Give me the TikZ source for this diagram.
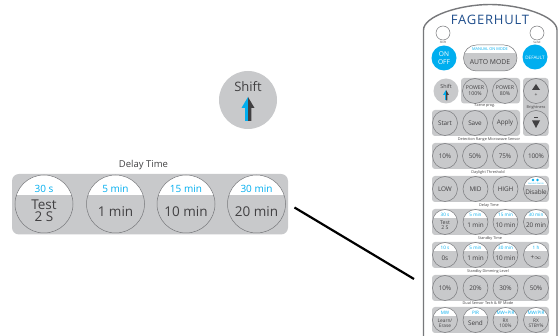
\documentclass[tikz,border=0pt]{standalone}
\usepackage{fontspec}
\setmainfont{Open Sans}
\definecolor{panelg}{HTML}{C8C9CB}
\definecolor{btnline}{HTML}{77787B}
\definecolor{cyanb}{HTML}{00AEEF}
\definecolor{txtg}{HTML}{414042}
\definecolor{brandb}{HTML}{1F4E8C}
\newcommand{\fs}[1]{\fontsize{#1}{#1}\selectfont}
\tikzset{
  panel/.style={fill=panelg,draw=none},
  btnc/.style={draw=btnline,line width=0.5pt},
  lbl/.style={text=txtg,inner sep=0pt,align=center,font=\fs{3.8}},
  big/.style={text=txtg,inner sep=0pt,align=center,font=\fs{6.4}\addfontfeatures{LetterSpace=-2}},
  top/.style={text=cyanb,inner sep=0pt,align=center,font=\fs{4.6}},
}
\newcommand{\plainb}[3]{\draw[btnc] (#1,#2) circle (12.5);
  \node[big] at (#1,#2) {#3};}
\newcommand{\twob}[4]{\begin{scope}\clip (#1,#2) circle (12.5);
  \fill[white] (#1-13,#2-13) rectangle (#1+13,#2-4);\end{scope}
  \draw[btnc] (#1,#2) circle (12.5);
  \node[top] at (#1,#2-7.6) {#3};
  \node[big] at (#1,#2+3) {#4};}
\newcommand{\bigb}[4]{\begin{scope}\clip (#1,204) circle (29);
  \fill[white] (#1-30,170) rectangle (#1+30,195);\end{scope}
  \draw[btnc] (#1,204) circle (29);
  \node[text=cyanb,inner sep=0pt,font=\fs{10}] at (#1,188.5) {#2};
  \node[text=txtg,inner sep=0pt,align=center,font=\fs{13.5}] at (#1,#3) {#4};}
\begin{document}
\begin{tikzpicture}[x=1pt,y=-1pt]
\useasboundingbox (0,0) rectangle (558,336);
\fill[white] (0,0) rectangle (558,336);
% remote body
\draw[draw=btnline,line width=1.4pt,fill=white] (423.5,337) -- (423.5,30) .. controls (423.5,16) and (460,4.5) .. (490,4.5) .. controls (520,4.5) and (557,16) .. (557,30) -- (557,337);
\node[text=brandb,inner sep=0pt,font=\fs{13}\addfontfeatures{LetterSpace=6}] (brand) at (490,20) {FAGERHULT};
\draw[btnc] (443,33) circle (7); \draw[btnc] (537,33) circle (7);
\node[lbl,font=\fs{3}] at (443,42) {Shift};
\node[lbl,font=\fs{3}] at (537,42) {Send};
% on/off + default
\fill[cyanb] (444,58) circle (12.5);
\node[text=white,inner sep=0pt,align=center,font=\fs{6.6}] at (444,58) {ON\\[1pt]OFF};
\fill[cyanb] (535,57) circle (12.5);
\node[text=white,inner sep=0pt,font=\fs{4.6}] at (535,57.5) {DEFAULT};
% auto mode
\fill[panelg,rounded corners=12.9pt] (463.5,45) rectangle (517,71);
\begin{scope}
\clip[rounded corners=12.9pt] (463.5,45) rectangle (517,71);
\fill[white] (460,44) rectangle (520,53.5);
\end{scope}
\draw[btnc,rounded corners=12.9pt] (463.5,45) rectangle (517,71);
\node[top,font=\fs{3.9}] at (490,49.5) {MANUAL ON MODE};
\node[big,font=\fs{6.8}] at (490,62.5) {AUTO MODE};
% shift small
\fill[panelg] (446,91) circle (12.5);
\node[text=txtg,inner sep=0pt,font=\fs{5.4}] at (446,86) {Shift};
\fill[cyanb] (444.6,92) -- (446,92) -- (446,100.5) -- (444.6,100.5) -- cycle;
\fill[cyanb] (443,95) -- (446,90) -- (446,95) -- cycle;
\fill[txtg] (446,90) -- (449,95) -- (447.4,95) -- (447.4,100.5) -- (446,100.5) -- cycle;
% panels
\fill[panel] (461,78) [rounded corners=3pt] rectangle (520,103.5);
\fill[panel] (523,78) [rounded corners=3pt] rectangle (548.5,136);
\fill[panel] (432,110) [rounded corners=3pt] rectangle (520,136);
\fill[panel] (432,143) [rounded corners=3pt] rectangle (549,169);
\fill[panel] (432,176) [rounded corners=3pt] rectangle (549,202);
\fill[panel] (432,209) [rounded corners=3pt] rectangle (549,235);
\fill[panel] (432,242) [rounded corners=3pt] rectangle (549,268);
\fill[panel] (432,275) [rounded corners=3pt] rectangle (549,301);
\fill[panel] (432,307) [rounded corners=3pt] rectangle (549,333);
% power
\plainb{475}{91}{}\plainb{505}{91}{}
\node[big,font=\fs{5.2}] at (475,91) {POWER\\[1pt]100\%};
\node[big,font=\fs{5.2}] at (505,91) {POWER\\[1pt]80\%};
% brightness
\draw[btnc] (536,91) circle (12.5);
\fill[txtg] (532,90) -- (536,84) -- (540,90) -- cycle;
\node[text=txtg,inner sep=0pt,font=\fs{5}] at (536,95) {+};
\draw[btnc] (536,123) circle (12.5);
\fill[txtg] (532,120.5) -- (540,120.5) -- (536,128) -- cycle;
\fill[txtg] (534,117.2) rectangle (538,117.8);
\node[lbl] at (536,107.5) {Brightness};
% scene
\node[lbl] at (485,106) {Scene prog.};
\plainb{445}{123}{Start}\plainb{475}{123}{Save}\plainb{505}{123}{Apply}
% detection
\node[lbl] at (489,140) {Detection Range Microwave Sensor};
\plainb{445}{156}{10\%}\plainb{475}{156}{50\%}\plainb{505}{156}{75\%}\plainb{536}{156}{100\%}
% daylight
\node[lbl] at (488,172.5) {Daylight Threshold};
\plainb{445}{189}{LOW}\plainb{475.5}{189}{MID}\plainb{505.5}{189}{HIGH}
\twob{536}{189}{}{Disable}
\fill[cyanb] (533,180) circle (1.3); \fill[cyanb] (537.5,180) circle (1.3);
\node[top,font=\fs{1.8}] at (536,183.5) {DAYLIGHT SENSOR};
% delay
\node[lbl] at (489,205.5) {Delay Time};
\twob{445}{222}{30 s}{}\twob{475.5}{222}{5 min}{1 min}\twob{505.5}{222}{15 min}{10 min}\twob{536}{222}{30 min}{20 min}
\node[big,font=\fs{5.2}] at (445,225) {Test\\[0pt]2 S};
% standby
\node[lbl] at (490,238.5) {Standby Time};
\twob{445}{255}{10 s}{0s}\twob{475.5}{255}{5 min}{1 min}\twob{505.5}{255}{30 min}{10 min}\twob{536}{255}{1 h}{+$\infty$}
% dimming
\node[lbl] at (488,271.5) {Standby Dimming Level};
\plainb{445}{288}{10\%}\plainb{475.5}{288}{20\%}\plainb{505.5}{288}{30\%}\plainb{536}{288}{50\%}
% dual
\node[lbl] at (488,303.5) {Dual Sensor Tech \& RF Mode};
\twob{445}{320}{MW}{}\twob{475.5}{320}{PIR}{Send}\twob{505.5}{320}{MW+PIR}{}\twob{536}{320}{MW/PIR}{}
\node[big,font=\fs{4.8}] at (445,323) {Learn/\\[0pt]Erase};
\node[big,font=\fs{4.8}] at (505.5,323) {RX\\[0pt]100\%};
\node[big,font=\fs{4.8}] at (536,323) {RX\\[0pt]STBY\%};
% large shift
\fill[panelg] (248,100) circle (29);
\node[text=txtg,inner sep=0pt,font=\fs{13}] at (248,87) {Shift};
\fill[cyanb] (244.6,102) rectangle (248,121);
\fill[cyanb] (241.5,108) -- (248,97) -- (248,108) -- cycle;
\fill[txtg] (248,97) -- (254.5,108) -- (251.3,108) -- (251.3,121) -- (248,121) -- cycle;
% large delay panel
\node[text=txtg,inner sep=0pt,font=\fs{9.5}] at (143.5,165.5) {Delay Time};
\fill[panel] (12,174) [rounded corners=7pt] rectangle (288,234.5);
\bigb{44}{30 s}{211}{Test\\[-1pt]2 S}
\bigb{115.5}{5 min}{212}{1 min}
\bigb{186}{15 min}{212}{10 min}
\bigb{256.5}{30 min}{212}{20 min}
% connector
\coordinate (zoomA) at (294.5,207.5);
\coordinate (zoomB) at (414,279);
\draw[black,line width=2.2pt] (zoomA) -- (zoomB);
\end{tikzpicture}
\end{document}
